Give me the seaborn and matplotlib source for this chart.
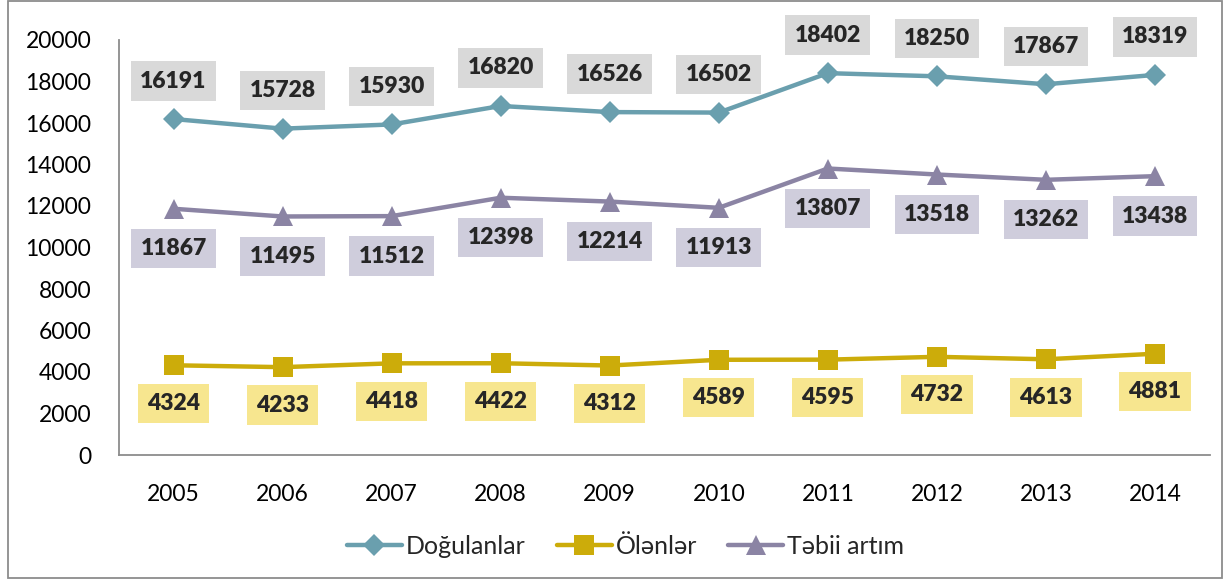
import pandas as pd
import seaborn as sns
import matplotlib.pyplot as plt
from matplotlib.patches import Rectangle

years = [2005, 2006, 2007, 2008, 2009, 2010, 2011, 2012, 2013, 2014]
births = [16191, 15728, 15930, 16820, 16526, 16502, 18402, 18250, 17867, 18319]
deaths = [4324, 4233, 4418, 4422, 4312, 4589, 4595, 4732, 4613, 4881]
natural = [11867, 11495, 11512, 12398, 12214, 11913, 13807, 13518, 13262, 13438]
names = ['Doğulanlar', 'Ölənlər', 'Təbii artım']

sns.set_style('white')
plt.rcParams['font.family'] = ['Lato', 'DejaVu Sans']

df = pd.DataFrame({'year': years, names[0]: births, names[1]: deaths, names[2]: natural})

fig = plt.figure(figsize=(12.24, 5.79), dpi=100)
ax = fig.add_axes([119 / 1224, 124 / 579, (1209.5 - 119) / 1224, 415 / 579])

# series style: colour, marker, marker size, label offset (px), label box colour
styles = {
    names[0]: ('#6a9fae', 'D', 11, 38, '#d9d9d9'),
    names[1]: ('#ccac0a', 's', 14, -38, '#f7e68f'),
    names[2]: ('#8b84a4', '^', 14, -40, '#cfcddc'),
}

for name in names:
    color, marker, ms, off, box = styles[name]
    sns.lineplot(data=df, x='year', y=name, ax=ax, color=color, marker=marker,
                 markersize=ms, markeredgewidth=0, linewidth=3.2, label=name)
    for x, y in zip(df['year'], df[name]):
        ax.annotate(str(y), (x, y), xytext=(0, off * 0.72), textcoords='offset points',
                    ha='center', va='center', fontsize=16.5, fontweight='heavy',
                    bbox=dict(boxstyle='square,pad=0.4', fc=box, ec='none'))

ax.set_xlim(2004.5, 2014.5)
ax.set_ylim(0, 20000)
ax.set_xticks(years)
ax.set_yticks(range(0, 20001, 2000))
ax.set_xlabel('')
ax.set_ylabel('')
ax.tick_params(axis='both', length=0, labelsize=16.5, colors='black')
ax.tick_params(axis='x', pad=21)
ax.tick_params(axis='y', pad=20)
for s in ['top', 'right']:
    ax.spines[s].set_visible(False)
for s in ['left', 'bottom']:
    ax.spines[s].set_color('#8c8c8c')
    ax.spines[s].set_linewidth(1.3)

ax.legend(loc='center', bbox_to_anchor=(0.511, 33 / 579), bbox_transform=fig.transFigure,
          ncol=3, frameon=False, fontsize=18, handlelength=2.2, columnspacing=1.25,
          handletextpad=0.16)

fig.patches.append(Rectangle((8 / 1224, 1 / 579), 1214 / 1224, 577 / 579,
                             transform=fig.transFigure, fill=False, ec='#8c8c8c', lw=1.3))

fig.savefig('out.png', dpi=100)
